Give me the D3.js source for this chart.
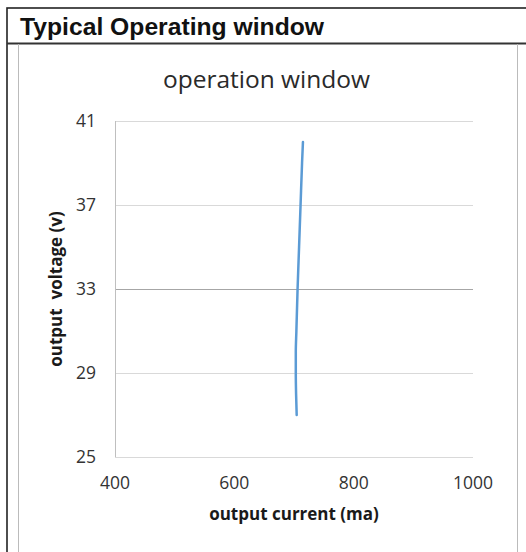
<!DOCTYPE html>
<html>
<head>
<meta charset="utf-8">
<script src="https://cdn.jsdelivr.net/npm/d3@7"></script>
<style>
  html, body { margin: 0; padding: 0; background: #fff; }
  svg { display: block; }
</style>
</head>
<body>
<svg id="chart" width="526" height="552"></svg>
<script>
// Data
const voltage = [27, 28, 29, 30, 31, 33, 35, 37, 39, 40];
const current = [704.5, 703.5, 703, 703, 704, 706, 708.5, 711, 713.5, 715];
const xTicks = [400, 600, 800, 1000];
const yTicks = [25, 29, 33, 37, 41];
const headerText = "Typical Operating window";
const chartTitle = "operation window";
const xTitle = "output current (ma)";
const yTitle = "output\u00a0 voltage (v)";

const svg = d3.select("#chart");

// outer frame
svg.append("rect").attr("x", 7).attr("y", 8).attr("width", 530).attr("height", 560)
  .attr("fill", "none").attr("stroke", "#222").attr("stroke-width", 1.6);
svg.append("line").attr("x1", 7).attr("x2", 526).attr("y1", 43.5).attr("y2", 43.5)
  .attr("stroke", "#333").attr("stroke-width", 2);
svg.append("text").attr("x", 20).attr("y", 35)
  .attr("font-family", "Liberation Sans, Arial, sans-serif").attr("font-weight", "bold")
  .attr("font-size", 24.7).attr("fill", "#111").text(headerText);

// inner chart frame
svg.append("line").attr("x1", 18.5).attr("x2", 18.5).attr("y1", 44).attr("y2", 552)
  .attr("stroke", "#bbb").attr("stroke-width", 1);
svg.append("line").attr("x1", 517.5).attr("x2", 517.5).attr("y1", 44).attr("y2", 552)
  .attr("stroke", "#bbb").attr("stroke-width", 1);

const margin = { left: 115, top: 121, right: 473, bottom: 457 };
const x = d3.scaleLinear().domain([400, 1000]).range([margin.left, margin.right]);
const y = d3.scaleLinear().domain([25, 41]).range([margin.bottom, margin.top]);

const font = "Open Sans, Calibri, sans-serif";

// gridlines
const g = svg.append("g");
g.selectAll("line.grid").data(yTicks).enter().append("line")
  .attr("x1", x(400)).attr("x2", x(1000))
  .attr("y1", d => Math.round(y(d)) + 0.5).attr("y2", d => Math.round(y(d)) + 0.5)
  .attr("stroke", d => d === 33 ? "#a6a6a6" : "#d9d9d9").attr("stroke-width", 1);
// y axis line
g.append("line").attr("x1", x(400) + 0.5).attr("x2", x(400) + 0.5)
  .attr("y1", y(41)).attr("y2", y(25)).attr("stroke", "#bfbfbf");

// y tick labels
g.selectAll("text.yt").data(yTicks).enter().append("text")
  .attr("x", 96).attr("y", d => y(d)).attr("dy", "0.35em")
  .attr("text-anchor", "end").attr("font-family", font).attr("font-size", 17.5)
  .attr("fill", "#333").text(d => d);
// x tick labels
g.selectAll("text.xt").data(xTicks).enter().append("text")
  .attr("x", d => x(d)).attr("y", 489)
  .attr("text-anchor", "middle").attr("font-family", font).attr("font-size", 17.5)
  .attr("fill", "#333").text(d => d);

// titles
svg.append("text").attr("x", 266.5).attr("y", 88).attr("text-anchor", "middle")
  .attr("font-family", font).attr("font-size", 24.5).attr("fill", "#2a2a2a").text(chartTitle);
svg.append("text").attr("x", 294).attr("y", 520).attr("text-anchor", "middle")
  .attr("font-family", font).attr("font-weight", "bold").attr("font-size", 17)
  .attr("fill", "#1a1a1a").text(xTitle);
svg.append("text").attr("transform", "translate(62," + ((margin.top + margin.bottom) / 2) + ") rotate(-90)")
  .attr("text-anchor", "middle")
  .attr("font-family", font).attr("font-weight", "bold").attr("font-size", 17)
  .attr("fill", "#1a1a1a").text(yTitle);

// line
const pts = voltage.map((v, i) => [current[i], v]);
const line = d3.line().x(d => x(d[0])).y(d => y(d[1])).curve(d3.curveMonotoneY);
svg.append("path").datum(pts).attr("d", line)
  .attr("fill", "none").attr("stroke", "#5b9bd5").attr("stroke-width", 2.5)
  .attr("stroke-linecap", "round");
</script>
</body>
</html>
